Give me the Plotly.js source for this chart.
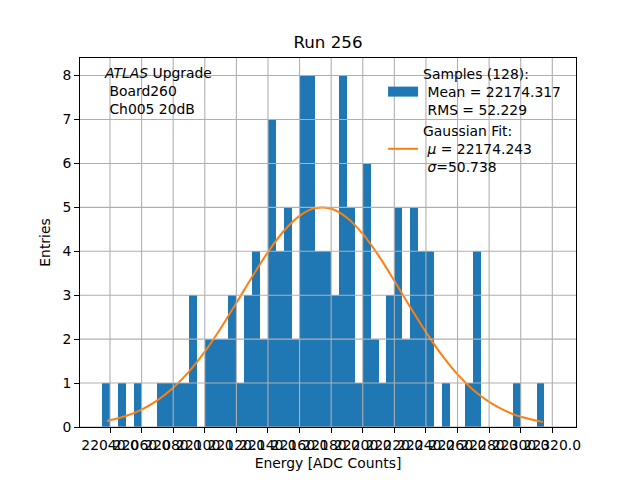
<!DOCTYPE html>
<html>
<head>
<meta charset="utf-8">
<script src="https://cdn.plot.ly/plotly-3.0.1.min.js"></script>
<style>
  html, body { margin: 0; padding: 0; background: #fff; }
  #plot { width: 640px; height: 480px; }
</style>
</head>
<body>
<div id="plot"></div>
<script>
// histogram: left bin edges (ADC counts) and entries per 5-count bin
const binLeft = [
  22035, 22040, 22045, 22050, 22055, 22060, 22065, 22070, 22075, 22080,
  22085, 22090, 22095, 22100, 22105, 22110, 22115, 22120, 22125, 22130,
  22135, 22140, 22145, 22150, 22155, 22160, 22165, 22170, 22175, 22180,
  22185, 22190, 22195, 22200, 22205, 22210, 22215, 22220, 22225, 22230,
  22235, 22240, 22245, 22250, 22255, 22260, 22265, 22270, 22275, 22280,
  22285, 22290, 22295, 22300, 22305, 22310
];
const counts = [
  1, 0, 1, 0, 1, 0, 0, 1, 1, 1,
  1, 3, 0, 2, 2, 2, 3, 1, 3, 4,
  2, 7, 4, 5, 2, 8, 8, 4, 4, 3,
  8, 5, 1, 6, 2, 1, 3, 5, 2, 5,
  4, 4, 0, 1, 0, 0, 1, 4, 0, 0,
  0, 0, 1, 0, 0, 1
];
const binWidth = 5;

// gaussian fit curve
const fitX = [
  22038, 22050, 22060, 22070, 22080, 22090, 22100, 22110, 22120, 22130,
  22140, 22150, 22160, 22170, 22180, 22190, 22200, 22210, 22220, 22230,
  22240, 22250, 22260, 22270, 22280, 22290, 22300, 22314
];
const fitY = [
  0.136, 0.250, 0.396, 0.606, 0.891, 1.260, 1.714, 2.243, 2.824, 3.419,
  3.982, 4.461, 4.807, 4.983, 4.968, 4.764, 4.395, 3.901, 3.329, 2.733,
  2.159, 1.640, 1.198, 0.842, 0.570, 0.371, 0.232, 0.113
];

const xTicks = [22040, 22060, 22080, 22100, 22120, 22140, 22160, 22180,
                22200, 22220, 22240, 22260, 22280, 22300, 22320];
const xTickText = xTicks.map(v => v.toFixed(1));
const yTicks = [0, 1, 2, 3, 4, 5, 6, 7, 8];

const sampleLabel = 'Samples (128):<br>\u00a0Mean = 22174.317<br>\u00a0RMS = 52.229';
const fitLabel = 'Gaussian Fit:<br>\u00a0<i>\u03bc</i> = 22174.243<br>\u00a0<i>\u03c3</i>=50.738';
const infoText = '<i>ATLAS</i> Upgrade<br>\u00a0Board260<br>\u00a0Ch005 20dB';

const BLUE = '#1f77b4';
const ORANGE = '#ff7f0e';
const FONT = 'DejaVu Sans, sans-serif';

const traces = [
  // legend stand-in so the patch looks like matplotlib's wide rectangle
  {
    x: [null], y: [null], type: 'scatter', mode: 'lines',
    name: sampleLabel, line: { color: BLUE, width: 10 },
    hoverinfo: 'skip'
  },
  {
    x: binLeft.map(e => e + binWidth / 2),
    y: counts,
    type: 'bar',
    width: binWidth,
    marker: { color: BLUE, line: { width: 0 } },
    showlegend: false
  },
  {
    x: fitX, y: fitY, type: 'scatter', mode: 'lines',
    name: fitLabel,
    line: { color: ORANGE, width: 2, shape: 'spline' }
  }
];

// matplotlib draws the grid on top of the bars
const gridShapes = [];
xTicks.forEach(v => gridShapes.push({
  type: 'line', xref: 'x', yref: 'paper', x0: v, x1: v, y0: 0, y1: 1,
  line: { color: '#b0b0b0', width: 1.1 }, layer: 'above'
}));
yTicks.forEach(v => gridShapes.push({
  type: 'line', xref: 'paper', yref: 'y', x0: 0, x1: 1, y0: v, y1: v,
  line: { color: '#b0b0b0', width: 1.1 }, layer: 'above'
}));

const axisCommon = {
  showgrid: false,
  zeroline: false,
  showline: true,
  mirror: true,
  linecolor: '#000',
  linewidth: 1,
  ticks: 'outside',
  ticklen: 5,
  tickwidth: 1,
  tickcolor: '#000',
  tickangle: 0,
  tickfont: { family: FONT, size: 13.9, color: '#000' },
  layer: 'above traces'
};

const layout = {
  width: 640,
  height: 480,
  margin: { l: 80, r: 64, t: 57.6, b: 52.8 },
  paper_bgcolor: '#fff',
  plot_bgcolor: '#fff',
  font: { family: FONT, color: '#000' },
  title: {
    text: 'Run 256',
    font: { family: FONT, size: 16.7, color: '#000' },
    x: 0.5125, xanchor: 'center', y: 0.9, yanchor: 'bottom'
  },
  xaxis: Object.assign({}, axisCommon, {
    range: [22021, 22335],
    tickmode: 'array',
    tickvals: xTicks,
    ticktext: xTickText,
    title: { text: 'Energy [ADC Counts]', font: { family: FONT, size: 13.9 }, standoff: 6 }
  }),
  yaxis: Object.assign({}, axisCommon, {
    range: [0, 8.4],
    tickmode: 'array',
    tickvals: yTicks,
    title: { text: 'Entries', font: { family: FONT, size: 13.9 }, standoff: 8 }
  }),
  bargap: 0,
  showlegend: true,
  legend: {
    x: 0.98, xanchor: 'right', y: 1.0, yanchor: 'top',
    bgcolor: 'rgba(0,0,0,0)',
    borderwidth: 0,
    font: { family: FONT, size: 13.9, color: '#000' },
    valign: 'middle'
  },
  annotations: [{
    xref: 'paper', yref: 'paper', x: 0.044, y: 0.987,
    xanchor: 'left', yanchor: 'top', align: 'left',
    text: infoText, showarrow: false,
    font: { family: FONT, size: 13.9, color: '#000' }
  }],
  shapes: gridShapes
};

Plotly.newPlot('plot', traces, layout, { displayModeBar: false, staticPlot: true });
</script>
</body>
</html>
